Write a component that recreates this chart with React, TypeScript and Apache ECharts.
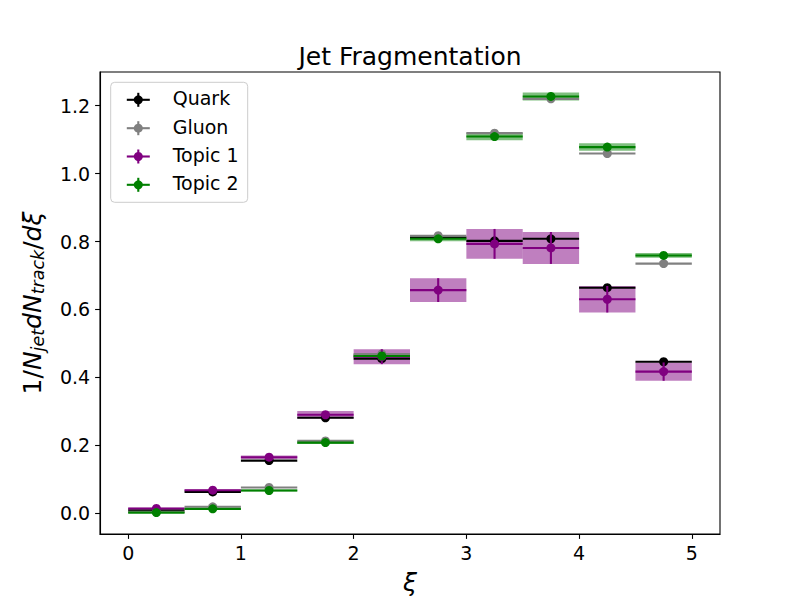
import React, { useEffect, useRef } from "react";
import * as echarts from "echarts";

// ---- data ----
const binCenters = [0.25, 0.75, 1.25, 1.75, 2.25, 2.75, 3.25, 3.75, 4.25, 4.75];
const binHalfWidth = 0.25;

const quarkValues = [0.009, 0.063, 0.155, 0.281, 0.455, 0.812, 0.802, 0.808, 0.664, 0.446];
const quarkErrors = [0.001, 0.001, 0.002, 0.002, 0.003, 0.003, 0.003, 0.003, 0.003, 0.002];

const gluonValues = [0.004, 0.019, 0.076, 0.213, 0.469, 0.817, 1.119, 1.220, 1.059, 0.735];
const gluonErrors = [0.001, 0.001, 0.002, 0.002, 0.003, 0.003, 0.003, 0.003, 0.003, 0.002];

const topic1Values = [0.014, 0.068, 0.165, 0.290, 0.461, 0.657, 0.793, 0.781, 0.630, 0.417];
const topic1Errors = [0.002, 0.002, 0.005, 0.011, 0.022, 0.035, 0.044, 0.047, 0.039, 0.027];

const topic2Values = [0.002, 0.013, 0.067, 0.208, 0.463, 0.808, 1.109, 1.227, 1.078, 0.759];
const topic2Errors = [0.001, 0.002, 0.003, 0.004, 0.006, 0.007, 0.011, 0.012, 0.011, 0.007];

const seriesNames = ["Quark", "Gluon", "Topic 1", "Topic 2"];
const seriesColors = ["#000000", "#808080", "#800080", "#008000"];
const bandColors = ["rgba(128,0,128,0.5)", "rgba(0,128,0,0.5)"];

const xTicks = [0, 1, 2, 3, 4, 5];
const yTicks = [0.0, 0.2, 0.4, 0.6, 0.8, 1.0, 1.2];

const FONT = "DejaVu Sans";
const DOT_R = 4.5;

function toData(vals: number[], errs: number[]) {
  return binCenters.map((c, i) => [c, vals[i], errs[i]]);
}

function errorbarRender(color: string) {
  return (params: any, api: any) => {
    const x = api.value(0);
    const y = api.value(1);
    const e = api.value(2);
    const l = api.coord([x - binHalfWidth, y]);
    const r = api.coord([x + binHalfWidth, y]);
    const t = api.coord([x, y + e]);
    const b = api.coord([x, y - e]);
    const c = api.coord([x, y]);
    return {
      type: "group",
      children: [
        { type: "line", shape: { x1: l[0], y1: l[1], x2: r[0], y2: r[1] }, style: { stroke: color, lineWidth: 2.1 } },
        { type: "line", shape: { x1: t[0], y1: t[1], x2: b[0], y2: b[1] }, style: { stroke: color, lineWidth: 2.1 } },
        { type: "circle", shape: { cx: c[0], cy: c[1], r: DOT_R }, style: { fill: color } },
      ],
    };
  };
}

function bandRender(color: string) {
  return (params: any, api: any) => {
    const x = api.value(0);
    const y = api.value(1);
    const e = api.value(2);
    const p1 = api.coord([x - binHalfWidth, y + e]);
    const p2 = api.coord([x + binHalfWidth, y - e]);
    return {
      type: "rect",
      shape: { x: p1[0], y: p1[1], width: p2[0] - p1[0], height: p2[1] - p1[1] },
      style: { fill: color },
    };
  };
}

function legendGraphic() {
  const left = 110.7;
  const top = 82.3;
  const rowY = [98.3, 126.7, 155, 183.3];
  const iconX = 138.3;
  const children: any[] = [
    {
      type: "rect",
      shape: { x: left, y: top, width: 137, height: 120, r: 4 },
      style: { fill: "rgba(255,255,255,0.8)", stroke: "#cccccc", lineWidth: 1 },
    },
  ];
  seriesNames.forEach((name, i) => {
    const cy = rowY[i] + 1.5;
    const col = seriesColors[i];
    children.push(
      { type: "line", shape: { x1: iconX - 11.5, y1: cy, x2: iconX + 11.5, y2: cy }, style: { stroke: col, lineWidth: 2.1 } },
      { type: "line", shape: { x1: iconX, y1: cy - 7, x2: iconX, y2: cy + 7 }, style: { stroke: col, lineWidth: 2.1 } },
      { type: "circle", shape: { cx: iconX, cy, r: DOT_R }, style: { fill: col } },
      {
        type: "text",
        x: 172.7,
        y: rowY[i],
        style: { text: name, fill: "#000", font: `19px '${FONT}'`, textAlign: "left", textVerticalAlign: "middle" },
      }
    );
  });
  return { type: "group", z: 100, children };
}

export default function App() {
  const ref = useRef<HTMLDivElement>(null);
  useEffect(() => {
    if (!ref.current) return;
    const chart = echarts.init(ref.current, null, { renderer: "svg" });
    const valueSets = [
      [quarkValues, quarkErrors],
      [gluonValues, gluonErrors],
      [topic1Values, topic1Errors],
      [topic2Values, topic2Errors],
    ];
    const series: any[] = [
      {
        type: "custom",
        name: "Topic 1 band",
        renderItem: bandRender(bandColors[0]),
        data: toData(topic1Values, topic1Errors),
        encode: { x: 0, y: 1 },
        clip: false,
        silent: true,
      },
      {
        type: "custom",
        name: "Topic 2 band",
        renderItem: bandRender(bandColors[1]),
        data: toData(topic2Values, topic2Errors),
        encode: { x: 0, y: 1 },
        clip: false,
        silent: true,
      },
      ...seriesNames.map((name, i) => ({
        type: "custom",
        name,
        renderItem: errorbarRender(seriesColors[i]),
        data: toData(valueSets[i][0], valueSets[i][1]),
        encode: { x: 0, y: 1 },
        clip: false,
      })),
    ];

    chart.setOption({
      animation: false,
      backgroundColor: "#ffffff",
      title: {
        text: "Jet Fragmentation",
        left: 410,
        top: 44,
        textAlign: "center",
        padding: 0,
        textStyle: { fontFamily: FONT, fontSize: 25, fontWeight: "normal", color: "#000" },
      },
      grid: {
        left: 100,
        right: 80,
        top: 72,
        bottom: 66,
        show: true,
        borderColor: "#000",
        borderWidth: 1.1,
        backgroundColor: "transparent",
      },
      xAxis: {
        type: "value",
        min: -0.25,
        max: 5.25,
        name: "ξ",
        nameLocation: "middle",
        nameGap: 36,
        nameTextStyle: { fontFamily: FONT, fontSize: 25, fontStyle: "italic", color: "#000" },
        axisLine: { show: true, onZero: false, lineStyle: { color: "#000", width: 1.1 } },
        axisTick: { show: true, customValues: xTicks, length: 4.9, lineStyle: { color: "#000", width: 1.1 } },
        axisLabel: {
          customValues: xTicks,
          margin: 9.8,
          fontFamily: FONT,
          fontSize: 19,
          color: "#000",
          formatter: (v: number) => String(v),
        },
        splitLine: { show: false },
      },
      yAxis: {
        type: "value",
        min: -0.061,
        max: 1.299,
        name: "{r|1/}{i|N}{s|jet}{i|dN}{s|track}{r|/}{i|dξ}",
        nameLocation: "middle",
        nameRotate: 90,
        nameGap: 45.4,
        nameTextStyle: {
          color: "#000",
          rich: {
            r: { fontFamily: FONT, fontSize: 25, lineHeight: 34, color: "#000" },
            i: { fontFamily: FONT, fontSize: 25, fontStyle: "italic", lineHeight: 34, color: "#000" },
            s: {
              fontFamily: FONT,
              fontSize: 17.5,
              fontStyle: "italic",
              lineHeight: 22,
              height: 22,
              verticalAlign: "bottom",
              color: "#000",
            },
          },
        },
        axisLine: { show: true, onZero: false, lineStyle: { color: "#000", width: 1.1 } },
        axisTick: { show: true, customValues: yTicks, length: 4.9, lineStyle: { color: "#000", width: 1.1 } },
        axisLabel: {
          customValues: yTicks,
          margin: 9.8,
          fontFamily: FONT,
          fontSize: 19,
          color: "#000",
          formatter: (v: number) => v.toFixed(1),
        },
        splitLine: { show: false },
      },
      graphic: [legendGraphic()],
      series,
    });
    return () => chart.dispose();
  }, []);
  return <div ref={ref} style={{ position: "absolute", left: 0, top: 0, width: 800, height: 600 }} />;
}
